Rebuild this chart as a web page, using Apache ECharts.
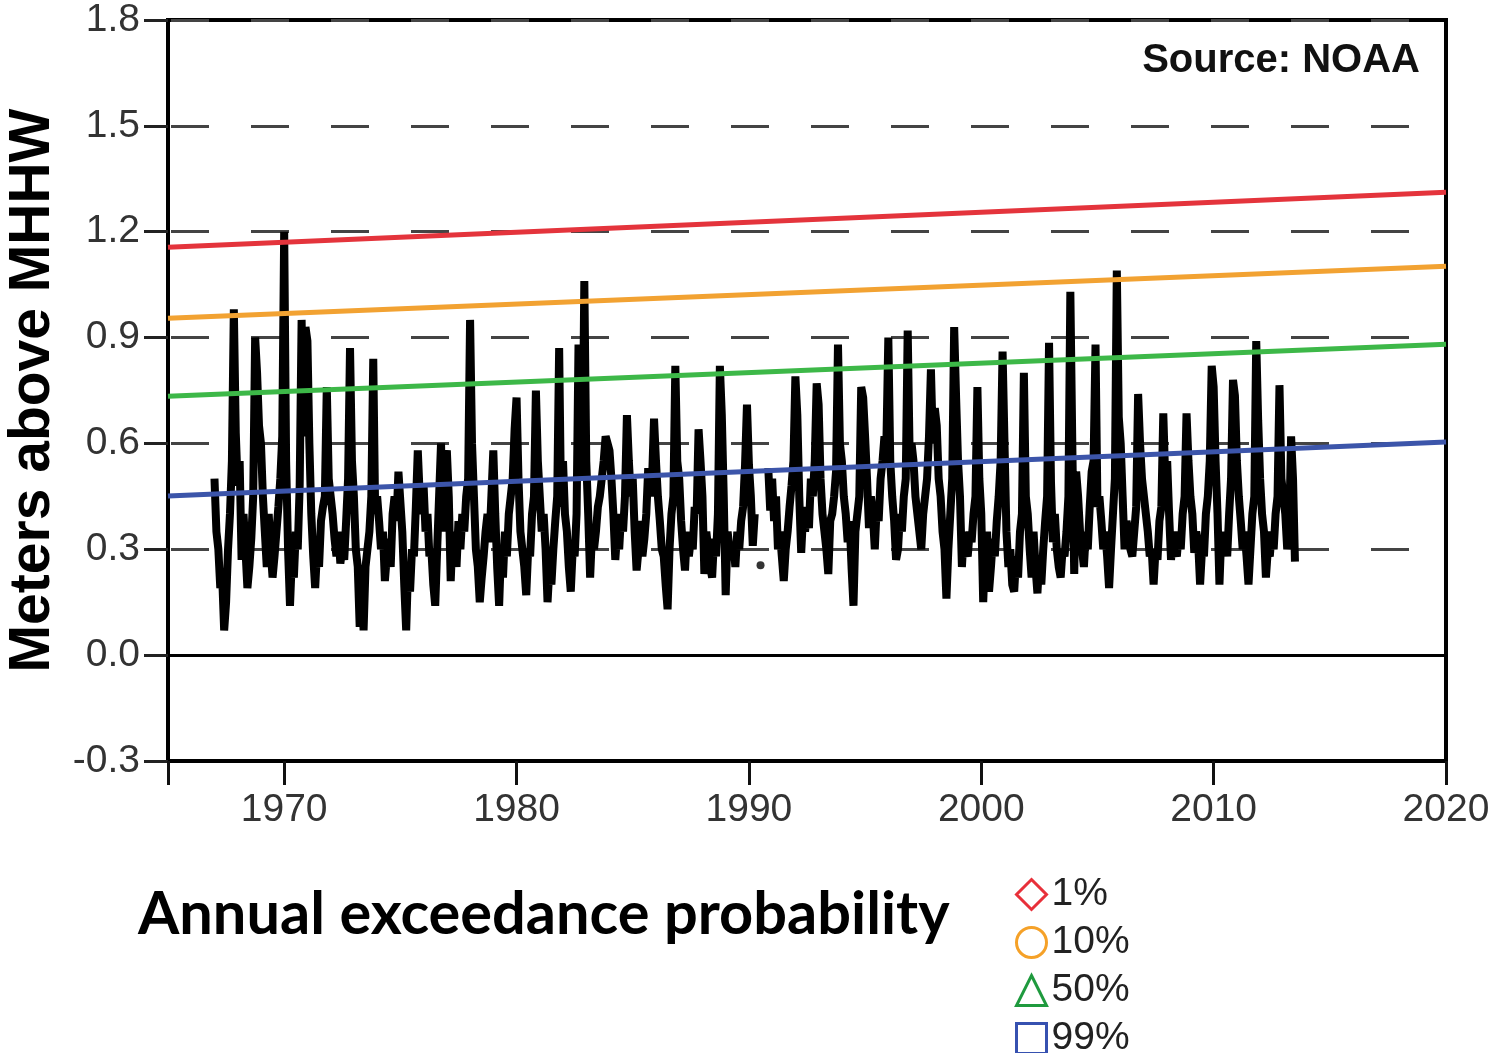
<!DOCTYPE html>
<html>
<head>
<meta charset="utf-8">
<title>Monthly highest water level</title>
<script src="https://cdn.jsdelivr.net/npm/echarts@6.0.0/dist/echarts.min.js"></script>
<style>
    html, body { margin: 0; padding: 0; background: #fff; }
    #tide_chart { width: 1495px; height: 1053px; }
</style>
</head>
<body>
<div id="tide_chart"></div>
<script>
// monthly highest water (m above MHHW), January of firstYear onward
let firstYear = 1967;
let levels1960s = [
    0.50, 0.35, 0.30, 0.19, 0.22, 0.07, 0.15, 0.30, 0.40, 0.55, 0.98, 0.63,
    0.48, 0.55, 0.27, 0.40, 0.30, 0.19, 0.25, 0.33, 0.45, 0.90, 0.80, 0.65,
    0.60, 0.45, 0.35, 0.25, 0.40, 0.30, 0.22, 0.28, 0.35, 0.42, 0.50, 0.62
];
let levels1970s = [
    1.20, 0.55, 0.30, 0.14, 0.28, 0.22, 0.35, 0.30, 0.48, 0.95, 0.62, 0.93,
    0.89, 0.60, 0.40, 0.28, 0.19, 0.30, 0.25, 0.38, 0.42, 0.45, 0.76, 0.50,
    0.45, 0.40, 0.33, 0.28, 0.35, 0.26, 0.30, 0.27, 0.38, 0.50, 0.87, 0.55,
    0.45, 0.30, 0.25, 0.08, 0.20, 0.07, 0.25, 0.30, 0.35, 0.45, 0.84, 0.40,
    0.45, 0.38, 0.30, 0.35, 0.21, 0.28, 0.33, 0.25, 0.40, 0.45, 0.38, 0.52,
    0.52, 0.35, 0.20, 0.07, 0.25, 0.18, 0.30, 0.28, 0.42, 0.58, 0.45, 0.40,
    0.48, 0.35, 0.40, 0.28, 0.30, 0.20, 0.14, 0.30, 0.45, 0.60, 0.35, 0.55,
    0.58, 0.45, 0.21, 0.35, 0.30, 0.25, 0.38, 0.30, 0.40, 0.35, 0.45, 0.50,
    0.95, 0.60, 0.45, 0.30, 0.25, 0.15, 0.22, 0.28, 0.35, 0.40, 0.32, 0.45,
    0.58, 0.40, 0.25, 0.14, 0.30, 0.22, 0.35, 0.28, 0.40, 0.45, 0.50, 0.64
];
let levels1980s = [
    0.73, 0.50, 0.35, 0.30, 0.25, 0.17, 0.30, 0.28, 0.40, 0.45, 0.75, 0.55,
    0.45, 0.35, 0.40, 0.30, 0.15, 0.25, 0.20, 0.30, 0.38, 0.45, 0.87, 0.42,
    0.55, 0.40, 0.35, 0.25, 0.18, 0.30, 0.28, 0.40, 0.88, 0.60, 0.50, 1.06,
    0.55, 0.40, 0.22, 0.35, 0.30, 0.35, 0.42, 0.45, 0.50, 0.55, 0.62, 0.60,
    0.58, 0.50, 0.40, 0.27, 0.35, 0.30, 0.40, 0.35, 0.45, 0.68, 0.55, 0.45,
    0.50, 0.35, 0.24, 0.30, 0.38, 0.28, 0.33, 0.40, 0.53, 0.45, 0.50, 0.67,
    0.55, 0.45, 0.38, 0.30, 0.28, 0.20, 0.13, 0.30, 0.40, 0.45, 0.82, 0.55,
    0.50, 0.38, 0.30, 0.24, 0.35, 0.28, 0.33, 0.30, 0.42, 0.40, 0.64, 0.55,
    0.45, 0.23, 0.35, 0.30, 0.25, 0.22, 0.33, 0.28, 0.40, 0.82, 0.68, 0.45,
    0.17, 0.35, 0.30, 0.27, 0.32, 0.25, 0.35, 0.30, 0.38, 0.42, 0.54, 0.71
];
let levels1990s = [
    0.54, 0.45, 0.31, 0.40, null, null, null, null, null, null, 0.53, 0.41,
    0.50, 0.38, 0.45, 0.30, 0.35, 0.28, 0.21, 0.30, 0.35, 0.42, 0.48, 0.55,
    0.79, 0.68, 0.45, 0.29, 0.40, 0.35, 0.42, 0.36, 0.50, 0.45, 0.55, 0.77,
    0.71, 0.50, 0.40, 0.35, 0.30, 0.23, 0.38, 0.40, 0.45, 0.52, 0.88, 0.60,
    0.55, 0.45, 0.40, 0.32, 0.38, 0.25, 0.14, 0.35, 0.40, 0.45, 0.76, 0.73,
    0.62, 0.50, 0.36, 0.45, 0.40, 0.30, 0.42, 0.38, 0.50, 0.55, 0.62, 0.60,
    0.90, 0.55, 0.45, 0.38, 0.27, 0.30, 0.40, 0.35, 0.45, 0.50, 0.92, 0.57,
    0.60, 0.55, 0.45, 0.40, 0.35, 0.30, 0.40, 0.45, 0.50, 0.62, 0.81, 0.60,
    0.70, 0.65, 0.50, 0.45, 0.35, 0.30, 0.16, 0.30, 0.40, 0.50, 0.93, 0.73,
    0.55, 0.45, 0.25, 0.35, 0.30, 0.28, 0.35, 0.32, 0.40, 0.45, 0.76, 0.50
];
let levels2000s = [
    0.40, 0.15, 0.30, 0.35, 0.18, 0.25, 0.33, 0.28, 0.38, 0.45, 0.55, 0.86,
    0.60, 0.35, 0.25, 0.30, 0.20, 0.18, 0.28, 0.22, 0.35, 0.40, 0.80, 0.45,
    0.40, 0.30, 0.22, 0.35, 0.25, 0.175, 0.28, 0.20, 0.30, 0.38, 0.45, 0.885,
    0.49, 0.32, 0.40, 0.30, 0.25, 0.22, 0.30, 0.28, 0.35, 0.45, 1.03, 0.60,
    0.23, 0.52, 0.45, 0.35, 0.30, 0.25, 0.35, 0.30, 0.42, 0.52, 0.55, 0.88,
    0.42, 0.45, 0.38, 0.30, 0.35, 0.28, 0.19, 0.30, 0.40, 0.50, 1.09, 0.675,
    0.60, 0.45, 0.30, 0.38, 0.35, 0.30, 0.28, 0.35, 0.42, 0.74, 0.60, 0.50,
    0.45, 0.40, 0.35, 0.28, 0.30, 0.20, 0.30, 0.27, 0.38, 0.42, 0.685, 0.50,
    0.55, 0.40, 0.27, 0.35, 0.30, 0.28, 0.35, 0.30, 0.40, 0.45, 0.685, 0.55,
    0.45, 0.40, 0.29, 0.35, 0.32, 0.20, 0.30, 0.28, 0.40, 0.45, 0.55, 0.82
];
let levels2010s = [
    0.76, 0.55, 0.40, 0.20, 0.35, 0.30, 0.33, 0.28, 0.40, 0.50, 0.78, 0.735,
    0.55, 0.45, 0.38, 0.30, 0.35, 0.28, 0.20, 0.30, 0.40, 0.45, 0.89, 0.665,
    0.50, 0.40, 0.35, 0.22, 0.30, 0.28, 0.35, 0.30, 0.40, 0.45, 0.765, 0.50,
    0.45, 0.40, 0.30, 0.35, 0.62, 0.50, 0.265
];
// lone reading inside the 1990 gap
let gapReading = [[1990.5, 0.255]];

// exceedance probability levels at the two ends of the axis
let trendYears = [1965, 2020];
let trend1 = [1.156, 1.312];
let trend10 = [0.955, 1.102];
let trend50 = [0.734, 0.881];
let trend99 = [0.451, 0.604];
let legendNames = ['1%', '10%', '50%', '99%'];

let yearLabels = [1970, 1980, 1990, 2000, 2010, 2020];
let yearTicks = [1965, 1970, 1980, 1990, 2000, 2010, 2020];

let lineColors = ['#e4343c', '#f2a232', '#3db848', '#3c55aa'];
let iconColors = ['#e8303a', '#f5a128', '#1f9a3e', '#3651b0'];
let iconShapes = ['diamond', 'circle', 'triangle', 'rect'];

function monthlyPoints() {
    let all = [].concat(levels1960s, levels1970s, levels1980s, levels1990s, levels2000s, levels2010s);
    return all.map(function (v, i) {
        return [firstYear + i / 12, v];
    });
}

function trendPoints(ends) {
    return trendYears.map(function (y, i) {
        return [y, ends[i]];
    });
}

function drawTideChart() {
    let myChart = echarts.init(document.getElementById('tide_chart'));
    let trends = [trend1, trend10, trend50, trend99];
    let labelFont = "'Liberation Sans', Arial, sans-serif";

    let trendSeries = trends.map(function (ends, i) {
        return {
            name: legendNames[i],
            type: 'line',
            data: trendPoints(ends),
            symbol: 'none',
            z: 4,
            lineStyle: {color: lineColors[i], width: 5},
            itemStyle: {color: lineColors[i]}
        };
    });

    let option = {
        animation: false,
        title: [
            {
                text: 'Source: NOAA',
                right: 70,
                top: 36,
                textStyle: {fontFamily: labelFont, fontWeight: 'bold', fontSize: 40, color: '#111'}
            },
            {
                text: 'Annual exceedance probability',
                left: 133,
                top: 880,
                textStyle: {fontFamily: 'Lato', fontWeight: 'bold', fontSize: 59.5, color: '#000'}
            }
        ],
        legend: {
            orient: 'vertical',
            left: 1010,
            top: 870,
            height: 220,
            itemGap: 9,
            itemWidth: 30,
            itemHeight: 30,
            textStyle: {fontFamily: labelFont, fontSize: 39, color: '#222', lineHeight: 38},
            data: legendNames.map(function (n, i) {
                return {
                    name: n,
                    icon: iconShapes[i],
                    itemStyle: {color: '#fff', borderColor: iconColors[i], borderWidth: 3}
                };
            })
        },
        grid: {
            left: 168,
            right: 49,
            top: 20,
            bottom: 292,
            outerBoundsMode: 'none',
            show: true,
            borderColor: '#000',
            borderWidth: 4
        },
        xAxis: {
            type: 'value',
            min: 1965,
            max: 2020,
            axisLine: {onZero: false, lineStyle: {color: '#000', width: 4}},
            axisTick: {length: 24, customValues: yearTicks, lineStyle: {color: '#111', width: 3}},
            axisLabel: {
                customValues: yearLabels,
                margin: 30,
                fontFamily: labelFont,
                fontSize: 39,
                color: '#333',
                formatter: function (v) {
                    return String(v);
                }
            },
            splitLine: {show: false}
        },
        yAxis: {
            type: 'value',
            min: -0.3,
            max: 1.8,
            interval: 0.3,
            name: 'Meters above MHHW',
            nameLocation: 'middle',
            nameRotate: 90,
            nameGap: 93,
            nameTextStyle: {fontFamily: labelFont, fontWeight: 'bold', fontSize: 57, color: '#000'},
            axisLine: {show: true, lineStyle: {color: '#000', width: 4}},
            axisTick: {show: true, length: 24, lineStyle: {color: '#222', width: 3}},
            axisLabel: {
                margin: 28,
                fontFamily: labelFont,
                fontSize: 39,
                color: '#333',
                formatter: function (v) {
                    return (Math.abs(v) < 1e-9 ? 0 : v).toFixed(1);
                }
            },
            splitLine: {lineStyle: {color: '#444', width: 3, type: [38, 42], dashOffset: -3}}
        },
        series: [
            {
                name: 'Monthly highest',
                type: 'line',
                data: monthlyPoints(),
                symbol: 'none',
                z: 3,
                lineStyle: {color: '#000', width: 8},
                markLine: {
                    silent: true,
                    symbol: 'none',
                    label: {show: false},
                    lineStyle: {color: '#000', width: 3, type: 'solid'},
                    data: [{yAxis: 0}]
                }
            },
            {
                name: 'Gap reading',
                type: 'scatter',
                data: gapReading,
                symbolSize: 8,
                z: 3,
                itemStyle: {color: '#000'}
            }
        ].concat(trendSeries)
    };

    myChart.setOption(option);
}

drawTideChart();
</script>
</body>
</html>
